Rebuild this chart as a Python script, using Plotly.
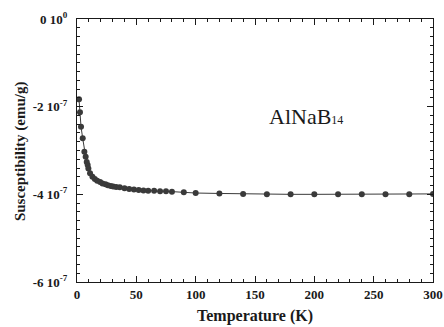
import plotly.graph_objects as go

temperature = [1.7, 2.5, 3.4, 4.8, 6.2, 7.3, 8.2, 9.0, 9.6, 11, 13, 15, 17, 19.5, 21.5, 24, 26, 28.5,
               30.5, 33, 36, 40, 44, 48, 52, 56, 60, 65, 70, 75, 80, 90, 100, 120, 140, 160, 180,
               200, 220, 240, 260, 280, 300]
susceptibility_e7 = [-1.83, -2.13, -2.46, -2.72, -3.03, -3.14, -3.26, -3.33, -3.41, -3.52, -3.60, -3.65,
                     -3.69, -3.72, -3.75, -3.77, -3.79, -3.81, -3.82, -3.83, -3.84, -3.86, -3.88, -3.89,
                     -3.90, -3.91, -3.92, -3.92, -3.93, -3.93, -3.94, -3.95, -3.97, -3.98, -3.99, -4.00,
                     -4.00, -4.00, -4.00, -4.00, -4.00, -4.00, -3.99]
y_tick_vals = [0, -2e-7, -4e-7, -6e-7]
y_tick_text = ["0 10<sup>0</sup>", "-2 10<sup>-7</sup>", "-4 10<sup>-7</sup>", "-6 10<sup>-7</sup>"]
x_tick_vals = [0, 50, 100, 150, 200, 250, 300]

susceptibility = [v * 1e-7 for v in susceptibility_e7]

font_family = "Liberation Serif"
ink = "#1a1a1a"

fig = go.Figure()
fig.add_trace(go.Scatter(
    x=temperature, y=susceptibility, mode="lines+markers",
    line=dict(color="#3a3a3a", width=1),
    marker=dict(color="#3a3a3a", size=6),
    showlegend=False,
))
# invisible trace to activate mirrored axes (top/right)
fig.add_trace(go.Scatter(x=[None], y=[None], xaxis="x2", yaxis="y2", showlegend=False, hoverinfo="skip"))

common = dict(
    showline=True, linecolor=ink, linewidth=1,
    ticks="inside", ticklen=6, tickcolor=ink, tickwidth=1,
    showgrid=False, zeroline=False, automargin=False,
)
tickfont = dict(family=font_family, size=13, color=ink, weight="bold")

x_minor = dict(dtick=10, tick0=0, ticks="inside", ticklen=3, tickcolor=ink, showgrid=False)
y_minor = dict(dtick=2e-8, tick0=0, ticks="inside", ticklen=3, tickcolor=ink, showgrid=False)

fig.update_layout(
    xaxis=dict(range=[0, 300], tickvals=x_tick_vals, minor=x_minor, tickfont=tickfont, **common),
    yaxis=dict(range=[-6e-7, 0], tickvals=y_tick_vals, ticktext=y_tick_text, minor=y_minor,
               tickfont=tickfont, ticklabelstandoff=6, **common),
    xaxis2=dict(range=[0, 300], tickvals=x_tick_vals, minor=x_minor, overlaying="x", side="top",
                anchor="y2", showticklabels=False, **common),
    yaxis2=dict(range=[-6e-7, 0], tickvals=y_tick_vals, minor=y_minor, overlaying="y", side="right",
                anchor="x2", showticklabels=False, **common),
)

fig.add_annotation(
    x=0.5, y=-0.129, xref="paper", yref="paper", showarrow=False, yanchor="middle",
    text="<b>Temperature (K)</b>",
    font=dict(family=font_family, size=16, color=ink),
)
fig.add_annotation(
    x=-0.160, y=0.498, xref="paper", yref="paper", showarrow=False, textangle=-90,
    xanchor="center", yanchor="middle",
    text="<b>Susceptibility (emu/g)</b>",
    font=dict(family=font_family, size=15, color=ink),
)
fig.add_annotation(
    x=0.643, y=0.63, xref="paper", yref="paper", showarrow=False, xanchor="center", yanchor="middle",
    text="AlNaB<span style='font-size:12px'>14</span>",
    font=dict(family=font_family, size=22, color=ink),
)

fig.update_layout(
    width=444, height=327,
    margin=dict(l=77, r=11, t=19, b=45, autoexpand=False),
    paper_bgcolor="white", plot_bgcolor="white",
)

# remove the default page margin so the figure fills the window exactly
fig.write_html(
    "out.html",
    config={"displayModeBar": False},
    post_script="document.body.style.margin='0';document.body.style.overflow='hidden';",
)
